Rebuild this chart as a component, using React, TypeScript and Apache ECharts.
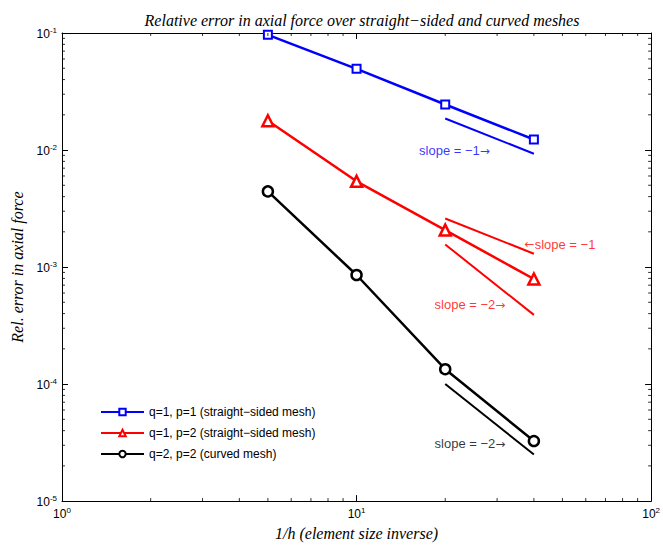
import React, { useEffect, useRef } from "react";
import * as echarts from "echarts";

// ---- data ----
const meshInverse = [5, 10, 20, 40];
const seriesNames = [
  "q=1, p=1 (straight\u2212sided mesh)",
  "q=1, p=2 (straight\u2212sided mesh)",
  "q=2, p=2 (curved mesh)",
];
const blueErr = [0.0965, 0.0494, 0.0245, 0.0123];
const redErr = [0.0178, 0.0054, 0.00207, 0.00079];
const blackErr = [0.00443, 0.000855, 0.000134, 0.0000326];

// slope reference lines
const slopeXs = [20, 40];
const blueSlope = [0.0186, 0.0093];
const redSlope1 = [0.0026, 0.0013];
const redSlope2 = [0.00156, 0.00039];
const blackSlope2 = [0.0001, 0.000025];

// annotations
const annoBlue = { x: 16.3, y: 0.0099, text: "slope = \u22121", arrow: "after" };
const annoRed1 = { x: 37.2, y: 0.00157, text: "slope = \u22121", arrow: "before" };
const annoRed2 = { x: 18.4, y: 0.000478, text: "slope = \u22122", arrow: "after" };
const annoBlack = { x: 18.4, y: 0.0000308, text: "slope = \u22122", arrow: "after" };

// axis ranges
const xRange = [1, 100];
const yRange = [0.00001, 0.1];
const minorFactors = [2, 3, 4, 5, 6, 7, 8, 9];
const xDecades = [1, 10];
const yDecades = [0.00001, 0.0001, 0.001, 0.01];

const BLUE = "#0000ff";
const RED = "#ff0000";
const BLACK = "#000000";
const SANS = "Liberation Sans, Arial, sans-serif";
const SERIF = "Liberation Serif, Times New Roman, serif";

function pairs(xs: number[], ys: number[]) {
  return xs.map((x, i) => [x, ys[i]]);
}

const supFormatter = (v: number) => {
  const e = Math.round(Math.log10(v));
  return `{b|10}{e|${e}}`;
};
const supRich = {
  b: { fontSize: 12, fontFamily: SANS, color: BLACK, lineHeight: 14, verticalAlign: "bottom" },
  e: { fontSize: 8, fontFamily: SANS, color: BLACK, lineHeight: 10, padding: [0, 0, 6, 0], verticalAlign: "top" },
};

export default function App() {
  const ref = useRef<HTMLDivElement>(null);
  useEffect(() => {
    if (!ref.current) return;
    const chart = echarts.init(ref.current, undefined, { renderer: "svg" });

    const xMinorVals: number[] = [];
    xDecades.forEach((d) => minorFactors.forEach((f) => xMinorVals.push(d * f)));
    const yMinorVals: number[] = [];
    yDecades.forEach((d) => minorFactors.forEach((f) => yMinorVals.push(d * f)));

    const L = 3;
    const tickSeries = (data: number[][], size: number[], offset: number[], name: string) => ({
      type: "scatter",
      name,
      silent: true,
      clip: false,
      symbol: "rect",
      symbolSize: size,
      symbolOffset: offset,
      itemStyle: { color: BLACK },
      z: 10,
      data,
    });

    const anno = (a: any, color: string, name: string) => ({
      type: "scatter",
      name,
      symbolSize: 0,
      silent: true,
      data: [[a.x, a.y]],
      z: 5,
      label: {
        show: true,
        position: "right",
        distance: 0,
        formatter: () => (a.arrow === "after" ? `{t|${a.text}}{a|\u2192}` : `{a|\u2190}{t|${a.text}}`),
        rich: {
          t: { color, fontSize: 13, fontFamily: SANS },
          a: { color, fontSize: 12, fontFamily: "DejaVu Sans" },
        },
      },
    });

    const slope = (ys: number[], color: string, name: string) => ({
      type: "line",
      name,
      data: pairs(slopeXs, ys),
      showSymbol: false,
      symbol: "none",
      silent: true,
      lineStyle: { color, width: 2 },
    });

    const axisCommon = {
      type: "log",
      logBase: 10,
      axisLine: { show: true, lineStyle: { color: BLACK, width: 1 } },
      axisTick: { show: true, inside: true, length: 6, lineStyle: { color: BLACK, width: 1 } },
      splitLine: { show: false },
    };
    const nameStyle = { fontFamily: SERIF, fontStyle: "italic", fontSize: 16, color: BLACK };

    chart.setOption({
      animation: false,
      backgroundColor: "#fff",
      title: {
        text: "Relative error in axial force over straight\u2212sided and curved meshes",
        left: 357,
        textAlign: "center",
        top: 7,
        textStyle: { fontFamily: SERIF, fontStyle: "italic", fontWeight: "normal", fontSize: 16, color: BLACK },
      },
      grid: { left: 62, right: 6, top: 33, bottom: 43 },
      legend: {
        data: seriesNames,
        orient: "vertical",
        left: 100,
        top: 406,
        padding: 0,
        itemWidth: 43,
        itemHeight: 8,
        itemGap: 9,
        textStyle: { fontFamily: SANS, fontSize: 12, color: BLACK },
      },
      xAxis: [
        {
          ...axisCommon,
          min: xRange[0],
          max: xRange[1],
          name: "1/h (element size inverse)",
          nameLocation: "middle",
          nameGap: 22,
          nameTextStyle: nameStyle,
          axisLabel: { formatter: supFormatter, rich: supRich, margin: 5 },
        },
        {
          ...axisCommon,
          min: xRange[0],
          max: xRange[1],
          position: "top",
          axisLabel: { show: false },
        },
      ],
      yAxis: [
        {
          ...axisCommon,
          min: yRange[0],
          max: yRange[1],
          name: "Rel. error in axial force",
          nameLocation: "middle",
          nameGap: 36,
          nameRotate: 90,
          nameTextStyle: nameStyle,
          axisLabel: { formatter: supFormatter, rich: supRich, margin: 5 },
        },
        {
          ...axisCommon,
          min: yRange[0],
          max: yRange[1],
          position: "right",
          axisLabel: { show: false },
        },
      ],
      series: [
        tickSeries(xMinorVals.map((v) => [v, yRange[0]]), [1, L], [0, -L / 2], "mxb"),
        tickSeries(xMinorVals.map((v) => [v, yRange[1]]), [1, L], [0, L / 2], "mxt"),
        tickSeries(yMinorVals.map((v) => [xRange[0], v]), [L, 1], [L / 2, 0], "myl"),
        tickSeries(yMinorVals.map((v) => [xRange[1], v]), [L, 1], [-L / 2, 0], "myr"),
        {
          type: "line",
          name: seriesNames[0],
          data: pairs(meshInverse, blueErr),
          color: BLUE,
          symbol: "rect",
          symbolSize: 8,
          lineStyle: { color: BLUE, width: 2.5 },
          itemStyle: { color: "#ffffff", borderColor: BLUE, borderWidth: 2 },
          z: 3,
        },
        {
          type: "line",
          name: seriesNames[1],
          data: pairs(meshInverse, redErr),
          color: RED,
          symbol: "triangle",
          symbolSize: 11,
          lineStyle: { color: RED, width: 2.5 },
          itemStyle: { color: "#ffffff", borderColor: RED, borderWidth: 2.5 },
          z: 3,
        },
        {
          type: "line",
          name: seriesNames[2],
          data: pairs(meshInverse, blackErr),
          color: BLACK,
          symbol: "circle",
          symbolSize: 10,
          lineStyle: { color: BLACK, width: 2.5 },
          itemStyle: { color: "#ffffff", borderColor: BLACK, borderWidth: 2.5 },
          z: 3,
        },
        slope(blueSlope, BLUE, "s1"),
        slope(redSlope1, RED, "s2"),
        slope(redSlope2, RED, "s3"),
        slope(blackSlope2, BLACK, "s4"),
        anno(annoBlue, BLUE, "a1"),
        anno(annoRed1, RED, "a2"),
        anno(annoRed2, RED, "a3"),
        anno(annoBlack, BLACK, "a4"),
      ],
    });
    return () => chart.dispose();
  }, []);
  return (
    <div
      ref={ref}
      style={{ position: "fixed", left: 0, top: 0, width: 663, height: 546, background: "#fff" }}
    />
  );
}
